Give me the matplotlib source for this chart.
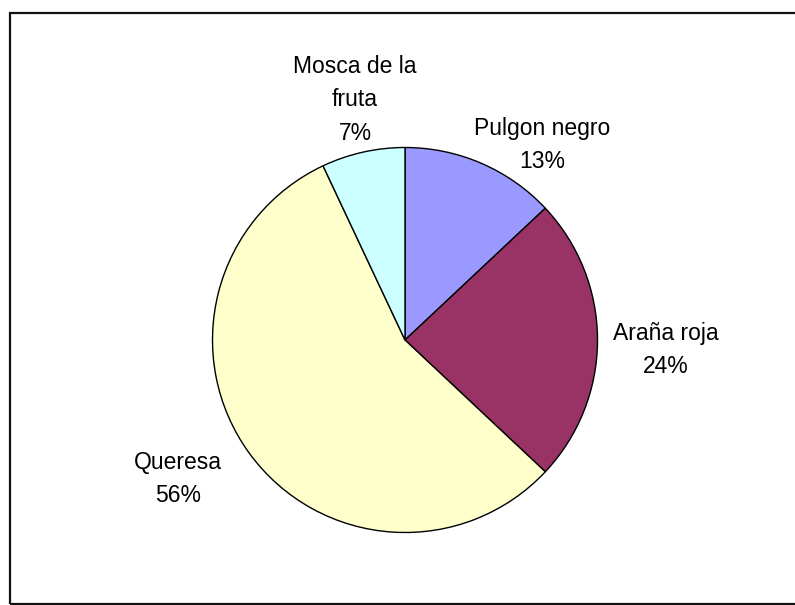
import matplotlib.pyplot as plt
from matplotlib.patches import Rectangle

plt.rcParams['font.family'] = ['Liberation Sans', 'DejaVu Sans']

# pest shares (percent)
plagas = ['Pulgon negro', 'Araña roja', 'Queresa', 'Mosca de la\nfruta']
porcentajes = [13, 24, 56, 7]
colores = ['#9999FF', '#993366', '#FFFFCC', '#CCFFFF']

# label centres, in units of the pie radius
pos_etiquetas = [(0.712, 1.013), (1.356, -0.052), (-1.179, -0.722), (-0.260, 1.247)]

W, H = 795, 605
cx, cy, r = 405, 340, 192.5

fig = plt.figure(figsize=(W / 100, H / 100), dpi=100)
ax = fig.add_axes([(cx - r) / W, (H - cy - r) / H, 2 * r / W, 2 * r / H])

ax.pie(porcentajes, colors=colores, startangle=90, counterclock=False,
       radius=1, wedgeprops=dict(edgecolor='black', linewidth=1.0))
ax.set_xlim(-1, 1)
ax.set_ylim(-1, 1)
ax.axis('off')

for nombre, valor, (x, y) in zip(plagas, porcentajes, pos_etiquetas):
    ax.text(x, y, f'{nombre}\n{valor}%', ha='center', va='center',
            fontsize=16.5, linespacing=1.6, color='black')

# chart area border
fig.patches.append(Rectangle((10 / W, 1 / H), 1.0, 1 - 14 / H,
                             transform=fig.transFigure, fill=False,
                             edgecolor='#111111', linewidth=1.6))

fig.savefig('out.png', dpi=100)
